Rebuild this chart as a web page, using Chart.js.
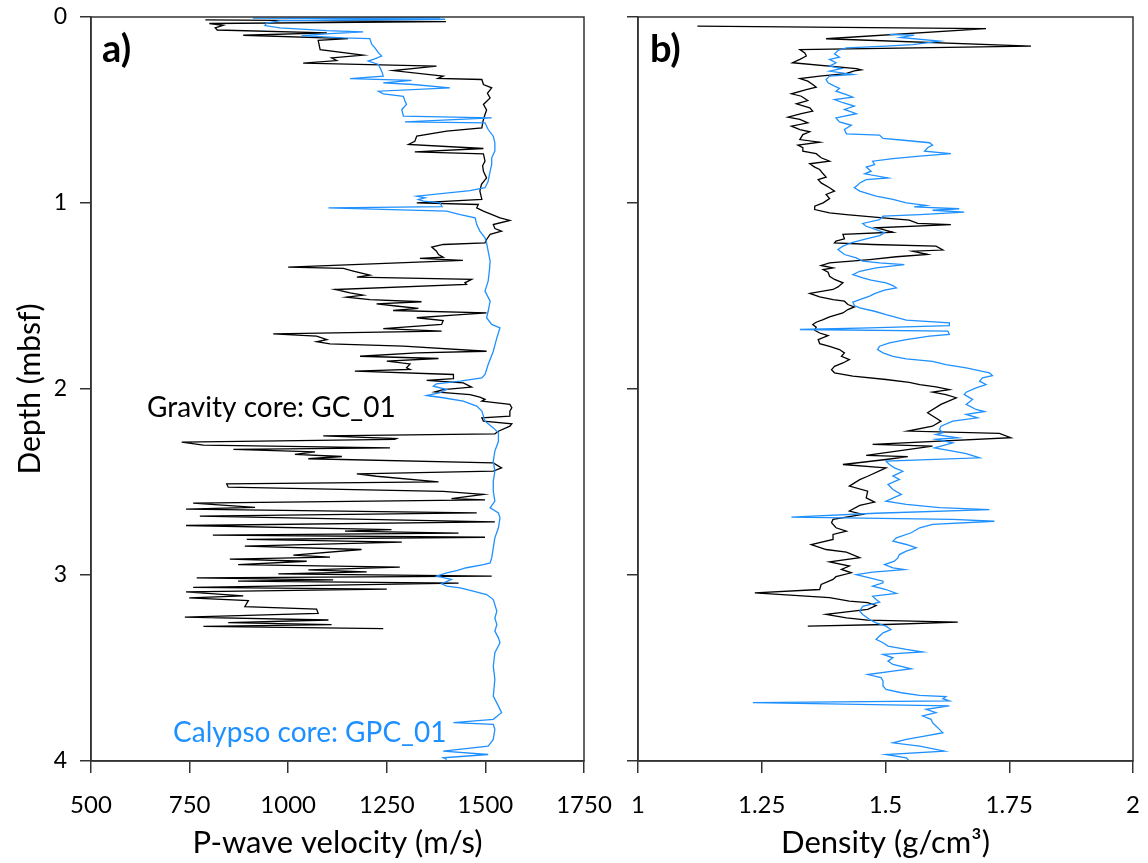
<!DOCTYPE html>
<html>
<head>
<meta charset="utf-8">
<script src="https://cdn.jsdelivr.net/npm/chart.js@4.4.1/dist/chart.umd.min.js"></script>
<style>
  html, body { margin: 0; padding: 0; background: #fff; }
  #wrap { position: relative; width: 1148px; height: 863px; overflow: hidden; }
  #velChart { position: absolute; left: 0; top: 0; }
  #densChart { position: absolute; left: 615px; top: 0; }
</style>
</head>
<body>
<div id="wrap">
  <canvas id="velChart" width="620" height="863"></canvas>
  <canvas id="densChart" width="533" height="863"></canvas>
</div>
<script>
// ---- data (depth in mbsf) ----
const gcVelDepth = [0.015,0.025,0.035,0.045,0.058,0.07,0.085,0.098,0.116,0.126,0.175,0.205,0.22,0.234,0.248,0.264,0.288,0.318,0.33,0.336,0.363,0.381,0.41,0.435,0.47,0.5,0.524,0.56,0.596,0.614,0.64,0.668,0.685,0.707,0.725,0.736,0.775,0.8,0.829,0.865,0.9,0.936,0.981,0.999,1.008,1.026,1.044,1.08,1.094,1.116,1.137,1.151,1.169,1.196,1.214,1.223,1.237,1.259,1.277,1.291,1.298,1.309,1.345,1.352,1.366,1.388,1.398,1.411,1.429,1.438,1.465,1.483,1.495,1.506,1.519,1.531,1.542,1.555,1.567,1.578,1.591,1.603,1.617,1.632,1.653,1.675,1.689,1.704,1.716,1.734,1.746,1.757,1.77,1.797,1.806,1.824,1.836,1.85,1.865,1.886,1.895,1.904,1.922,1.944,1.954,1.967,1.99,2.003,2.015,2.03,2.044,2.056,2.065,2.083,2.101,2.119,2.146,2.155,2.173,2.187,2.2,2.227,2.241,2.252,2.266,2.271,2.286,2.302,2.316,2.325,2.338,2.352,2.363,2.375,2.397,2.424,2.442,2.456,2.469,2.499,2.51,2.528,2.55,2.567,2.589,2.596,2.614,2.636,2.646,2.666,2.684,2.714,2.734,2.756,2.764,2.775,2.786,2.797,2.809,2.823,2.845,2.863,2.893,2.904,2.915,2.926,2.944,2.958,2.972,2.983,2.994,3.006,3.015,3.026,3.033,3.044,3.066,3.076,3.091,3.112,3.123,3.137,3.17,3.184,3.206,3.227,3.242,3.256,3.267,3.276,3.288];
const gcVel = [790,1400,800,835,815,820,1098,886,1152,1076,1081,1190,1110,1123,1038,1376,1266,1393,1380,1491,1495,1516,1505,1512,1495,1503,1499,1494,1491,1402,1326,1321,1305,1495,1321,1495,1499,1493,1495,1503,1490,1486,1491,1326,1482,1478,1495,1537,1562,1520,1524,1541,1512,1503,1499,1393,1364,1376,1381,1393,1334,1443,1000,1140,1165,1207,1174,1465,1448,1452,1119,1157,1190,1148,1207,1338,1224,1279,1330,1266,1503,1419,1326,1393,1389,1241,1389,962,1072,1098,1072,1106,1292,1503,1326,1182,1381,1250,1309,1300,1309,1169,1419,1419,1351,1444,1465,1393,1372,1461,1486,1499,1491,1562,1567,1562,1562,1491,1495,1567,1562,1533,1524,1089,1275,1270,730,785,1258,861,1068,1017,1136,1051,1520,1541,1520,1174,1224,1381,844,848,1393,1495,1414,1499,759,916,741,1478,776,1524,741,1262,1144,1432,809,1499,895,1288,890,1186,1013,1106,852,1047,873,1283,1051,1199,975,1516,768,1114,873,1432,759,1250,741,886,749,899,890,1072,1076,738,1102,848,1110,785,1241];

const gpcVelDepth = [0.003,0.006,0.012,0.02,0.033,0.046,0.058,0.073,0.08,0.089,0.1,0.112,0.116,0.148,0.166,0.193,0.21,0.228,0.237,0.255,0.291,0.318,0.331,0.341,0.354,0.363,0.381,0.399,0.413,0.426,0.452,0.47,0.497,0.533,0.542,0.564,0.569,0.605,0.641,0.677,0.721,0.757,0.793,0.829,0.883,0.918,0.933,0.963,0.972,0.981,0.99,0.999,1.02,1.026,1.044,1.062,1.08,1.116,1.151,1.187,1.214,1.259,1.313,1.366,1.42,1.474,1.528,1.582,1.617,1.653,1.671,1.725,1.797,1.868,1.922,1.94,1.958,1.972,1.985,2.003,2.02,2.035,2.047,2.065,2.092,2.119,2.173,2.209,2.236,2.281,2.334,2.388,2.442,2.495,2.549,2.603,2.639,2.666,2.693,2.746,2.8,2.854,2.908,2.935,2.944,2.961,2.976,2.988,3.006,3.024,3.047,3.06,3.069,3.087,3.105,3.132,3.159,3.195,3.231,3.267,3.302,3.338,3.364,3.418,3.49,3.561,3.651,3.705,3.74,3.776,3.794,3.803,3.83,3.884,3.92,3.947,3.965,3.983,3.992];
const gpcVel = [1385,910,1398,980,945,941,979,1098,1190,1106,1034,1140,1207,1212,1220,1229,1237,1216,1203,1229,1237,1241,1157,1313,1241,1317,1410,1229,1241,1292,1296,1300,1288,1292,1516,1296,1499,1507,1520,1524,1524,1516,1516,1512,1507,1499,1461,1326,1347,1330,1343,1385,1390,1102,1402,1436,1474,1478,1486,1499,1503,1507,1512,1510,1507,1499,1512,1507,1503,1516,1537,1529,1520,1507,1499,1491,1436,1376,1368,1402,1385,1351,1393,1444,1478,1491,1499,1520,1533,1533,1524,1520,1524,1520,1520,1524,1512,1533,1537,1533,1524,1520,1516,1512,1495,1452,1427,1402,1376,1414,1389,1402,1436,1469,1503,1520,1524,1529,1524,1529,1524,1533,1537,1524,1520,1524,1520,1533,1541,1520,1419,1520,1524,1520,1507,1393,1507,1393,1402];

const gcDensDepth = [0.049,0.062,0.117,0.157,0.175,0.193,0.21,0.228,0.246,0.278,0.284,0.29,0.304,0.318,0.331,0.345,0.363,0.377,0.39,0.413,0.426,0.449,0.467,0.488,0.506,0.52,0.538,0.551,0.569,0.587,0.605,0.617,0.632,0.659,0.673,0.689,0.703,0.721,0.735,0.757,0.775,0.789,0.807,0.82,0.843,0.861,0.874,0.892,0.918,0.936,0.954,0.976,0.999,1.017,1.035,1.053,1.062,1.08,1.092,1.11,1.116,1.133,1.157,1.169,1.193,1.205,1.214,1.223,1.232,1.253,1.259,1.277,1.289,1.304,1.322,1.336,1.349,1.358,1.372,1.394,1.411,1.429,1.451,1.465,1.486,1.505,1.519,1.528,1.546,1.559,1.573,1.591,1.612,1.627,1.641,1.653,1.668,1.684,1.699,1.713,1.734,1.756,1.771,1.788,1.806,1.824,1.842,1.86,1.878,1.896,1.913,1.931,1.949,1.964,1.976,1.989,2.003,2.017,2.03,2.047,2.083,2.128,2.173,2.2,2.226,2.239,2.262,2.298,2.307,2.357,2.364,2.379,2.406,2.424,2.469,2.487,2.522,2.549,2.585,2.608,2.626,2.656,2.674,2.701,2.719,2.746,2.764,2.782,2.809,2.836,2.863,2.877,2.907,2.93,2.952,2.97,2.988,3.009,3.024,3.051,3.078,3.096,3.122,3.14,3.149,3.164,3.185,3.212,3.23,3.243,3.253,3.266,3.275];
const gcDens = [1.12,1.703,1.38,1.794,1.327,1.337,1.34,1.327,1.312,1.441,1.451,1.437,1.42,1.367,1.327,1.343,1.353,1.36,1.34,1.31,1.33,1.343,1.32,1.347,1.353,1.33,1.303,1.327,1.343,1.31,1.327,1.347,1.333,1.327,1.367,1.323,1.333,1.333,1.36,1.37,1.387,1.347,1.357,1.367,1.374,1.38,1.364,1.37,1.387,1.397,1.38,1.387,1.374,1.357,1.357,1.387,1.421,1.495,1.548,1.565,1.632,1.481,1.515,1.414,1.417,1.4,1.397,1.474,1.602,1.616,1.555,1.585,1.522,1.468,1.387,1.37,1.394,1.374,1.384,1.387,1.397,1.414,1.404,1.394,1.347,1.367,1.394,1.417,1.424,1.437,1.424,1.414,1.387,1.374,1.36,1.353,1.36,1.357,1.367,1.384,1.364,1.367,1.387,1.407,1.417,1.411,1.427,1.414,1.397,1.391,1.397,1.434,1.501,1.548,1.569,1.602,1.629,1.595,1.622,1.643,1.612,1.585,1.612,1.595,1.545,1.73,1.753,1.474,1.595,1.461,1.545,1.501,1.414,1.501,1.464,1.448,1.427,1.464,1.461,1.478,1.448,1.427,1.454,1.394,1.391,1.4,1.421,1.394,1.394,1.35,1.38,1.421,1.448,1.387,1.427,1.411,1.431,1.4,1.394,1.37,1.367,1.236,1.387,1.427,1.464,1.481,1.464,1.38,1.421,1.464,1.646,1.501,1.343];

const gpcDensDepth = [0.094,0.097,0.11,0.13,0.148,0.157,0.166,0.18,0.198,0.216,0.228,0.246,0.264,0.277,0.291,0.309,0.318,0.336,0.354,0.372,0.384,0.399,0.417,0.431,0.444,0.461,0.479,0.497,0.52,0.542,0.564,0.582,0.605,0.628,0.635,0.653,0.664,0.676,0.689,0.703,0.721,0.735,0.748,0.761,0.775,0.793,0.807,0.829,0.843,0.865,0.874,0.892,0.904,0.918,0.936,0.963,0.981,0.999,1.013,1.021,1.031,1.039,1.049,1.062,1.071,1.089,1.11,1.125,1.143,1.16,1.175,1.193,1.211,1.232,1.25,1.277,1.295,1.313,1.322,1.331,1.349,1.367,1.385,1.403,1.415,1.429,1.444,1.456,1.469,1.487,1.501,1.519,1.533,1.551,1.564,1.582,1.6,1.612,1.63,1.645,1.659,1.671,1.68,1.689,1.707,1.716,1.734,1.752,1.77,1.788,1.806,1.824,1.838,1.851,1.869,1.887,1.905,1.913,1.928,1.94,1.958,1.976,1.994,2.017,2.03,2.056,2.083,2.11,2.121,2.137,2.155,2.173,2.2,2.218,2.235,2.245,2.262,2.271,2.289,2.316,2.334,2.347,2.37,2.388,2.406,2.424,2.442,2.468,2.486,2.513,2.54,2.567,2.603,2.62,2.638,2.648,2.668,2.689,2.701,2.711,2.728,2.746,2.773,2.8,2.818,2.836,2.854,2.872,2.89,2.908,2.926,2.944,2.962,2.971,2.985,2.998,3.015,3.033,3.042,3.06,3.078,3.099,3.114,3.132,3.146,3.168,3.194,3.212,3.239,3.257,3.275,3.293,3.311,3.328,3.346,3.364,3.382,3.4,3.414,3.427,3.445,3.463,3.481,3.504,3.517,3.535,3.552,3.57,3.597,3.615,3.633,3.647,3.654,3.665,3.677,3.686,3.704,3.722,3.74,3.758,3.776,3.794,3.812,3.83,3.848,3.866,3.884,3.902,3.92,3.947,3.965,3.983,4.0];
const gpcDens = [1.508,1.558,1.53,1.609,1.555,1.501,1.421,1.404,1.397,1.407,1.387,1.4,1.387,1.411,1.387,1.434,1.387,1.38,1.384,1.397,1.407,1.4,1.421,1.434,1.397,1.414,1.437,1.417,1.441,1.4,1.407,1.431,1.417,1.421,1.488,1.495,1.542,1.589,1.595,1.585,1.579,1.632,1.569,1.515,1.474,1.478,1.461,1.471,1.458,1.505,1.461,1.448,1.444,1.437,1.448,1.481,1.515,1.542,1.582,1.558,1.649,1.595,1.659,1.569,1.495,1.488,1.454,1.461,1.481,1.498,1.488,1.461,1.434,1.414,1.404,1.417,1.441,1.454,1.488,1.538,1.481,1.448,1.434,1.454,1.471,1.501,1.515,1.522,1.498,1.478,1.468,1.448,1.434,1.437,1.448,1.478,1.501,1.518,1.542,1.629,1.629,1.468,1.327,1.626,1.629,1.589,1.542,1.508,1.488,1.484,1.495,1.515,1.542,1.595,1.622,1.663,1.696,1.71,1.716,1.696,1.69,1.703,1.683,1.663,1.659,1.676,1.663,1.683,1.7,1.663,1.686,1.636,1.612,1.609,1.616,1.602,1.646,1.602,1.636,1.599,1.636,1.663,1.69,1.501,1.508,1.518,1.535,1.515,1.528,1.505,1.515,1.532,1.501,1.542,1.609,1.71,1.48,1.31,1.636,1.72,1.595,1.569,1.552,1.522,1.515,1.542,1.562,1.542,1.528,1.525,1.518,1.498,1.515,1.538,1.474,1.441,1.468,1.495,1.495,1.474,1.501,1.522,1.474,1.481,1.488,1.454,1.448,1.454,1.468,1.481,1.501,1.511,1.495,1.488,1.481,1.495,1.505,1.542,1.575,1.495,1.515,1.505,1.515,1.552,1.515,1.464,1.491,1.495,1.495,1.501,1.532,1.569,1.622,1.616,1.629,1.232,1.629,1.582,1.602,1.575,1.592,1.595,1.602,1.609,1.616,1.579,1.542,1.515,1.569,1.619,1.501,1.542,1.548];

const depthTicks = [0, 1, 2, 3, 4];
const velTicks = [500, 750, 1000, 1250, 1500, 1750];
const densTicks = [1, 1.25, 1.5, 1.75, 2];

const BLUE = '#1e90ff';
const FONT = 'Lato, "Liberation Sans", sans-serif';

function pts(depths, vals) {
  return depths.map((d, i) => ({ x: vals[i], y: d }));
}

// box around the plot area + panel annotations
const frame = {
  id: 'frame',
  afterDraw(chart, args, opts) {
    const { ctx, chartArea: a, scales } = chart;
    ctx.save();
    ctx.strokeStyle = '#333';
    ctx.lineWidth = 1.5;
    ctx.strokeRect(a.left, a.top, a.right - a.left, a.bottom - a.top);
    ctx.textBaseline = 'alphabetic';
    (opts.labels || []).forEach(l => {
      ctx.font = l.font;
      ctx.fillStyle = l.color;
      ctx.fillText(l.text, scales.x.getPixelForValue(l.x), scales.y.getPixelForValue(l.y));
    });
    ctx.restore();
  }
};

// fixed axis boxes, no extra label padding pushed into the layout
function fixBox(s, w, h) {
  if (w != null) s.width = w;
  if (h != null) s.height = h;
  s.paddingLeft = s.paddingRight = s.paddingTop = s.paddingBottom = 0;
}

function depthAxis(showLabels, width) {
  return {
    type: 'linear', reverse: true, min: 0, max: 4,
    afterBuildTicks: s => { s.ticks = depthTicks.map(v => ({ value: v })); },
    ticks: { display: showLabels, color: '#000', font: { family: FONT, size: 23 }, padding: 13 },
    grid: { drawOnChartArea: false, drawTicks: true, tickLength: 11, color: '#333', lineWidth: 1.5 },
    border: { display: true, color: '#333', width: 1.5 },
    title: showLabels ? { display: true, text: 'Depth (mbsf)', color: '#000', font: { family: FONT, size: 30 }, padding: { top: 12 } } : { display: false },
    afterFit: s => fixBox(s, width, null)
  };
}

function xAxis(min, max, ticks, title) {
  return {
    type: 'linear', position: 'bottom', min, max,
    afterBuildTicks: s => { s.ticks = ticks.map(v => ({ value: v })); },
    ticks: { color: '#000', font: { family: FONT, size: 24 }, padding: 18, maxRotation: 0, autoSkip: false,
             callback: v => String(+v.toFixed(2)) },
    grid: { drawOnChartArea: false, drawTicks: true, tickLength: 12, color: '#333', lineWidth: 1.5 },
    border: { display: true, color: '#333', width: 1.5 },
    title: { display: true, text: title, color: '#000', font: { family: FONT, size: 31 }, padding: { bottom: 1 } },
    afterFit: s => fixBox(s, null, 102)
  };
}

const common = {
  responsive: false, animation: false, devicePixelRatio: 1,
  plugins: { legend: { display: false }, tooltip: { enabled: false } },
  elements: { point: { radius: 0 }, line: { tension: 0 } }
};

new Chart(document.getElementById('velChart'), {
  type: 'scatter',
  data: { datasets: [
    { data: pts(gpcVelDepth, gpcVel), showLine: true, borderColor: BLUE, borderWidth: 1.3 },
    { data: pts(gcVelDepth, gcVel), showLine: true, borderColor: '#000', borderWidth: 1.3 }
  ] },
  options: { ...common,
    layout: { padding: { top: 17, right: 36, left: 0, bottom: 0 } },
    scales: { x: xAxis(500, 1750, velTicks, 'P-wave velocity (m/s)'), y: depthAxis(true, 91) },
    plugins: { ...common.plugins, frame: { labels: [
      { text: 'a)', x: 528, y: 0.24, font: `bold 38px ${FONT}`, color: '#000' },
      { text: 'Gravity core: GC_01', x: 642, y: 2.148, font: `28px ${FONT}`, color: '#000' },
      { text: 'Calypso core: GPC_01', x: 708, y: 3.9, font: `28px ${FONT}`, color: BLUE }
    ] } }
  },
  plugins: [frame]
});

new Chart(document.getElementById('densChart'), {
  type: 'scatter',
  data: { datasets: [
    { data: pts(gpcDensDepth, gpcDens), showLine: true, borderColor: BLUE, borderWidth: 1.3 },
    { data: pts(gcDensDepth, gcDens), showLine: true, borderColor: '#000', borderWidth: 1.3 }
  ] },
  options: { ...common,
    layout: { padding: { top: 17, right: 15, left: 0, bottom: 0 } },
    scales: { x: xAxis(1, 2, densTicks, 'Density (g/cm\u00B3)'), y: depthAxis(false, 23) },
    plugins: { ...common.plugins, frame: { labels: [
      { text: 'b)', x: 1.024, y: 0.24, font: `bold 38px ${FONT}`, color: '#000' }
    ] } }
  },
  plugins: [frame]
});
</script>
</body>
</html>
